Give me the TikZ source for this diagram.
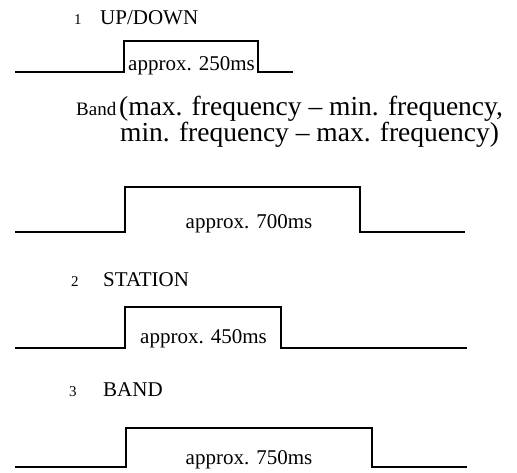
\documentclass[tikz,border=0pt]{standalone}
\usepackage{fontspec}
\setmainfont{Liberation Serif}
\begin{document}
\begin{tikzpicture}[x=1pt,y=-1pt,
  wave/.style={line width=1.1pt,line join=miter},
  lbl/.style={inner sep=0pt,font=\fontsize{21}{24}\selectfont},
  big/.style={inner sep=0pt,font=\fontsize{27.5}{30}\selectfont},
  num/.style={inner sep=0pt,font=\fontsize{15}{16}\selectfont}]
\useasboundingbox (0,0) rectangle (517,472);
% headers
\node[num,anchor=base west] (n1) at (74,24) {1};
\node[lbl,anchor=base west] (h1) at (100,24) {UP/DOWN};
\node[inner sep=0pt,font=\fontsize{19}{22}\selectfont,anchor=base west] (hb) at (76,115) {Band};
\node[big,anchor=base west] (hb1) at (119,115) {(max. frequency – min. frequency,};
\node[big,anchor=base west] (hb2) at (120,141) {min. frequency – max. frequency)};
\node[num,anchor=base west] (n2) at (71,286) {2};
\node[lbl,anchor=base west] (h2) at (103,286) {STATION};
\node[num,anchor=base west] (n3) at (69,396) {3};
\node[lbl,anchor=base west] (h3) at (103,396) {BAND};
% waves
\draw[wave] (15,72) -- (124,72) -- (124,41) -- (258,41) -- (258,72) -- (293,72);
\draw[wave] (15,232) -- (125,232) -- (125,187) -- (360,187) -- (360,232) -- (465,232);
\draw[wave] (15,348) -- (125,348) -- (125,307) -- (281,307) -- (281,348) -- (467,348);
\draw[wave] (15,467) -- (126,467) -- (126,428) -- (372,428) -- (372,467) -- (467,467);
% durations
\node[lbl,anchor=base west] (d1) at (128,70) {approx. 250ms};
\node[lbl,anchor=base] (d2) at (249,228) {approx. 700ms};
\node[lbl,anchor=base west] (d3) at (140,343) {approx. 450ms};
\node[lbl,anchor=base] (d4) at (249,464) {approx. 750ms};
\end{tikzpicture}
\end{document}
